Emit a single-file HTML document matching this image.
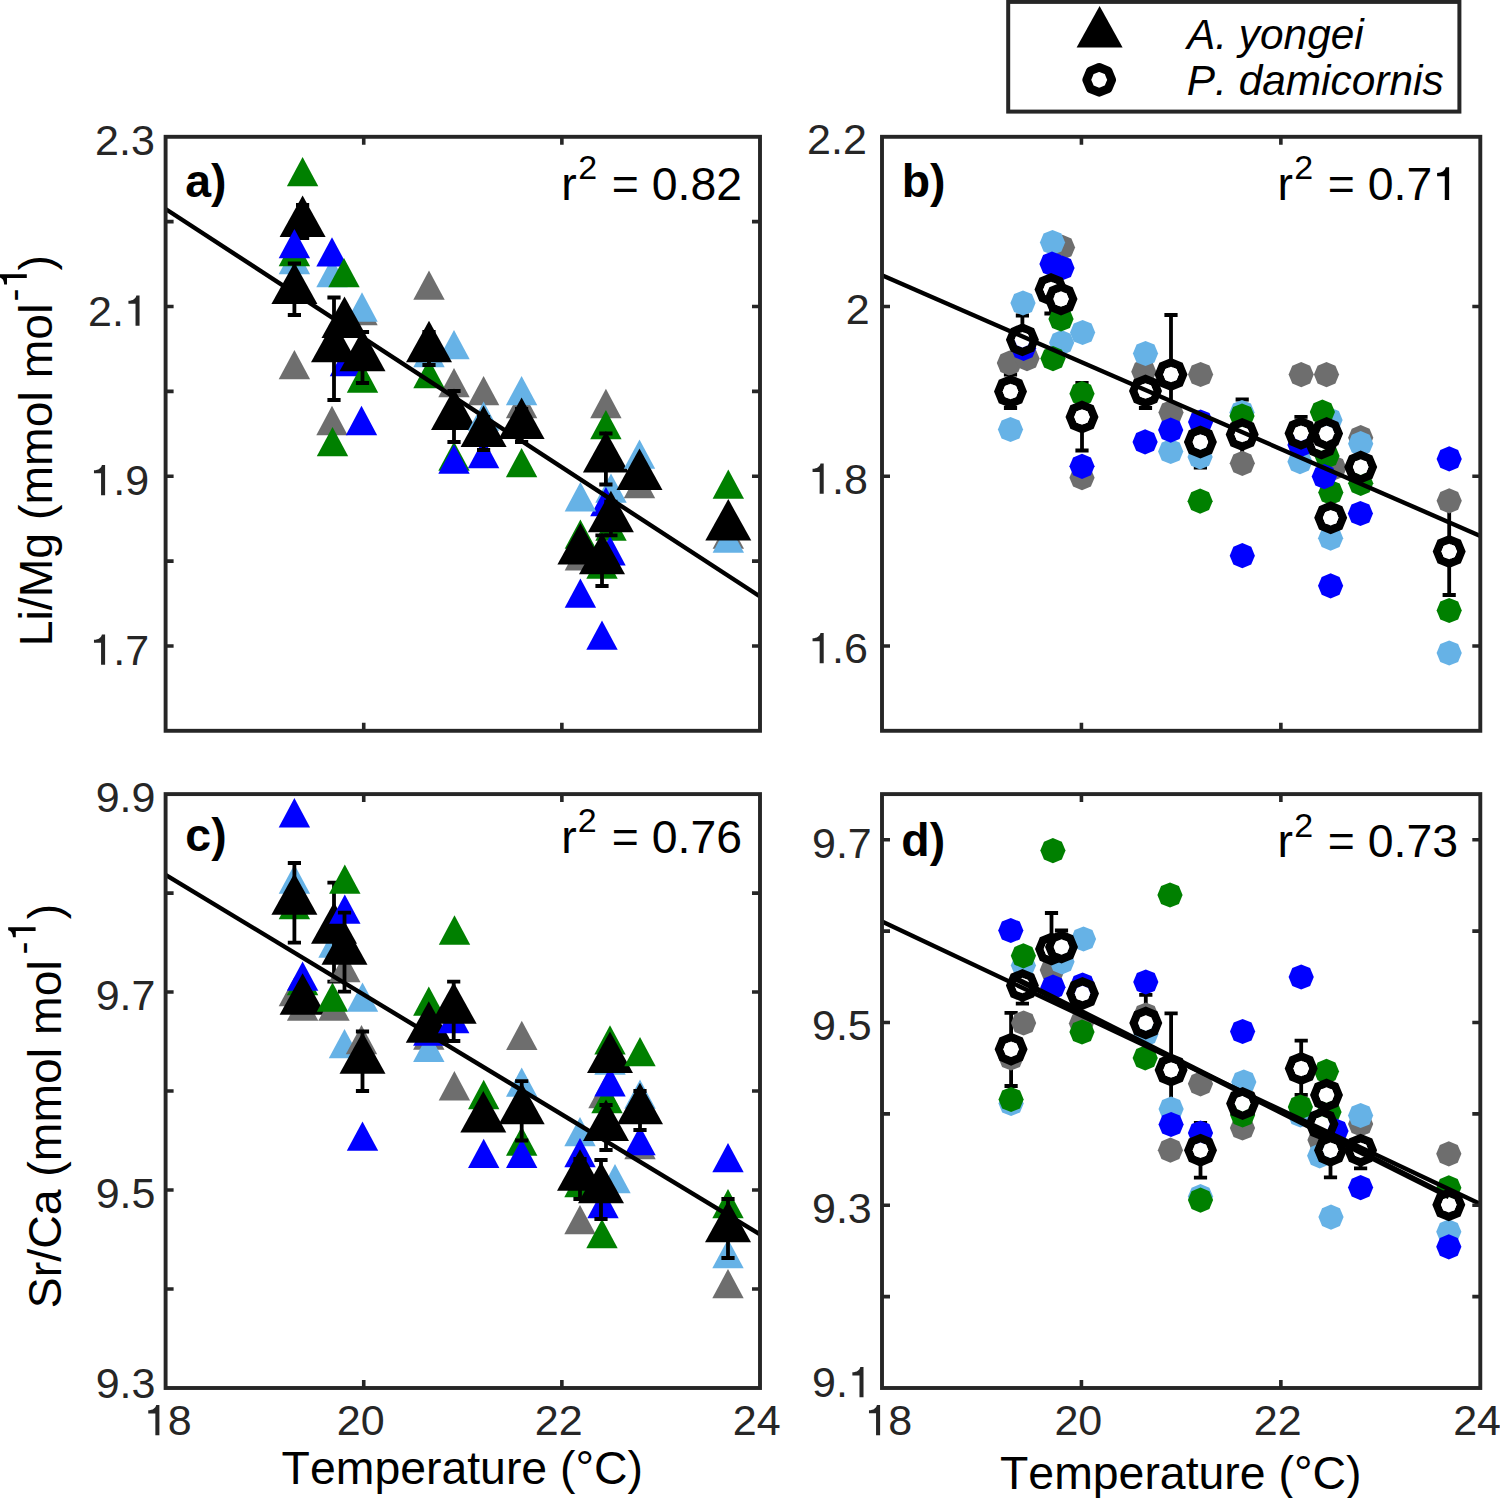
<!DOCTYPE html>
<html><head><meta charset="utf-8"><title>Li/Mg and Sr/Ca vs temperature</title>
<style>html,body{margin:0;padding:0;background:#fff;width:1500px;height:1498px;overflow:hidden}svg{display:block}text{font-family:"Liberation Sans",sans-serif;font-kerning:none}</style>
</head><body>
<svg xmlns="http://www.w3.org/2000/svg" width="1500" height="1498" viewBox="0 0 1500 1498">
<rect width="1500" height="1498" fill="#fff"/>
<clipPath id="clipa"><rect x="165.60" y="136.80" width="594.40" height="594.00"/></clipPath>
<g clip-path="url(#clipa)">
<polygon points="302.60,156.90 318.30,186.30 286.90,186.30" fill="#008000"/>
<path d="M302.60 205.00V238.00M296.00 205.00H309.20M296.00 238.00H309.20" stroke="#000" stroke-width="3.8" fill="none"/>
<polygon points="302.60,195.60 325.60,237.10 279.60,237.10" fill="#000"/>
<polygon points="294.40,349.90 310.10,379.30 278.70,379.30" fill="#6E6E6E"/>
<polygon points="294.40,244.90 310.10,274.30 278.70,274.30" fill="#66B2E6"/>
<polygon points="294.40,236.90 310.10,266.30 278.70,266.30" fill="#008000"/>
<polygon points="294.40,228.90 310.10,258.30 278.70,258.30" fill="#0000FF"/>
<path d="M294.40 263.50V315.00M287.80 263.50H301.00M287.80 315.00H301.00" stroke="#000" stroke-width="3.8" fill="none"/>
<polygon points="294.40,262.60 317.40,304.10 271.40,304.10" fill="#000"/>
<polygon points="332.00,405.80 347.70,435.20 316.30,435.20" fill="#6E6E6E"/>
<polygon points="332.00,257.90 347.70,287.30 316.30,287.30" fill="#66B2E6"/>
<polygon points="332.50,426.90 348.20,456.30 316.80,456.30" fill="#008000"/>
<polygon points="332.00,237.20 347.70,266.60 316.30,266.60" fill="#0000FF"/>
<polygon points="345.50,346.80 361.20,376.20 329.80,376.20" fill="#0000FF"/>
<path d="M334.00 297.50V400.00M327.40 297.50H340.60M327.40 400.00H340.60" stroke="#000" stroke-width="3.8" fill="none"/>
<polygon points="334.00,320.80 357.00,362.30 311.00,362.30" fill="#000"/>
<polygon points="362.00,295.90 377.70,325.30 346.30,325.30" fill="#6E6E6E"/>
<polygon points="362.00,292.30 377.70,321.70 346.30,321.70" fill="#66B2E6"/>
<polygon points="362.50,363.30 378.20,392.70 346.80,392.70" fill="#008000"/>
<polygon points="361.50,405.80 377.20,435.20 345.80,435.20" fill="#0000FF"/>
<path d="M362.50 332.00V383.00M355.90 332.00H369.10M355.90 383.00H369.10" stroke="#000" stroke-width="3.8" fill="none"/>
<polygon points="362.50,329.80 385.50,371.30 339.50,371.30" fill="#000"/>
<polygon points="344.00,257.90 359.70,287.30 328.30,287.30" fill="#008000"/>
<path d="M344.50 314.00V334.00M337.90 314.00H351.10M337.90 334.00H351.10" stroke="#000" stroke-width="3.8" fill="none"/>
<polygon points="344.50,296.60 367.50,338.10 321.50,338.10" fill="#000"/>
<polygon points="454.00,367.90 469.70,397.30 438.30,397.30" fill="#6E6E6E"/>
<polygon points="454.00,329.90 469.70,359.30 438.30,359.30" fill="#66B2E6"/>
<polygon points="454.00,441.40 469.70,470.80 438.30,470.80" fill="#008000"/>
<polygon points="454.00,444.40 469.70,473.80 438.30,473.80" fill="#0000FF"/>
<path d="M454.00 391.00V442.00M447.40 391.00H460.60M447.40 442.00H460.60" stroke="#000" stroke-width="3.8" fill="none"/>
<polygon points="454.00,388.60 477.00,430.10 431.00,430.10" fill="#000"/>
<polygon points="429.00,270.40 444.70,299.80 413.30,299.80" fill="#6E6E6E"/>
<polygon points="429.00,337.90 444.70,367.30 413.30,367.30" fill="#66B2E6"/>
<polygon points="429.00,358.90 444.70,388.30 413.30,388.30" fill="#008000"/>
<path d="M429.00 332.00V365.00M422.40 332.00H435.60M422.40 365.00H435.60" stroke="#000" stroke-width="3.8" fill="none"/>
<polygon points="429.00,320.80 452.00,362.30 406.00,362.30" fill="#000"/>
<polygon points="483.60,375.90 499.30,405.30 467.90,405.30" fill="#6E6E6E"/>
<polygon points="483.60,401.40 499.30,430.80 467.90,430.80" fill="#66B2E6"/>
<polygon points="483.60,438.90 499.30,468.30 467.90,468.30" fill="#0000FF"/>
<path d="M483.60 417.00V450.00M477.00 417.00H490.20M477.00 450.00H490.20" stroke="#000" stroke-width="3.8" fill="none"/>
<polygon points="483.60,405.60 506.60,447.10 460.60,447.10" fill="#000"/>
<polygon points="521.60,388.90 537.30,418.30 505.90,418.30" fill="#6E6E6E"/>
<polygon points="521.60,375.90 537.30,405.30 505.90,405.30" fill="#66B2E6"/>
<polygon points="521.60,447.90 537.30,477.30 505.90,477.30" fill="#008000"/>
<path d="M521.60 409.00V442.00M515.00 409.00H528.20M515.00 442.00H528.20" stroke="#000" stroke-width="3.8" fill="none"/>
<polygon points="521.60,397.60 544.60,439.10 498.60,439.10" fill="#000"/>
<polygon points="605.90,388.80 621.60,418.20 590.20,418.20" fill="#6E6E6E"/>
<polygon points="611.00,473.40 626.70,502.80 595.30,502.80" fill="#66B2E6"/>
<polygon points="605.90,409.90 621.60,439.30 590.20,439.30" fill="#008000"/>
<polygon points="605.90,486.90 621.60,516.30 590.20,516.30" fill="#0000FF"/>
<path d="M605.90 433.50V484.50M599.30 433.50H612.50M599.30 484.50H612.50" stroke="#000" stroke-width="3.8" fill="none"/>
<polygon points="605.90,431.10 628.90,472.60 582.90,472.60" fill="#000"/>
<polygon points="611.00,511.40 626.70,540.80 595.30,540.80" fill="#008000"/>
<polygon points="610.00,536.00 625.70,565.40 594.30,565.40" fill="#0000FF"/>
<path d="M610.90 501.70V535.30M604.30 501.70H617.50M604.30 535.30H617.50" stroke="#000" stroke-width="3.8" fill="none"/>
<polygon points="610.90,490.80 633.90,532.30 587.90,532.30" fill="#000"/>
<polygon points="580.40,541.10 596.10,570.50 564.70,570.50" fill="#6E6E6E"/>
<polygon points="580.40,482.00 596.10,511.40 564.70,511.40" fill="#66B2E6"/>
<polygon points="580.40,519.40 596.10,548.80 564.70,548.80" fill="#008000"/>
<polygon points="580.40,578.40 596.10,607.80 564.70,607.80" fill="#0000FF"/>
<path d="M580.40 540.00V561.00M573.80 540.00H587.00M573.80 561.00H587.00" stroke="#000" stroke-width="3.8" fill="none"/>
<polygon points="580.40,523.10 603.40,564.60 557.40,564.60" fill="#000"/>
<polygon points="602.00,549.40 617.70,578.80 586.30,578.80" fill="#008000"/>
<polygon points="602.00,620.40 617.70,649.80 586.30,649.80" fill="#0000FF"/>
<path d="M602.00 535.30V586.00M595.40 535.30H608.60M595.40 586.00H608.60" stroke="#000" stroke-width="3.8" fill="none"/>
<polygon points="602.00,532.80 625.00,574.30 579.00,574.30" fill="#000"/>
<polygon points="639.50,468.90 655.20,498.30 623.80,498.30" fill="#6E6E6E"/>
<polygon points="639.50,439.40 655.20,468.80 623.80,468.80" fill="#66B2E6"/>
<polygon points="639.50,460.40 655.20,489.80 623.80,489.80" fill="#0000FF"/>
<path d="M639.50 466.00V487.00M632.90 466.00H646.10M632.90 487.00H646.10" stroke="#000" stroke-width="3.8" fill="none"/>
<polygon points="639.50,448.60 662.50,490.10 616.50,490.10" fill="#000"/>
<polygon points="728.30,519.40 744.00,548.80 712.60,548.80" fill="#6E6E6E"/>
<polygon points="728.30,523.40 744.00,552.80 712.60,552.80" fill="#66B2E6"/>
<polygon points="728.30,469.40 744.00,498.80 712.60,498.80" fill="#008000"/>
<path d="M728.30 517.00V537.00M721.70 517.00H734.90M721.70 537.00H734.90" stroke="#000" stroke-width="3.8" fill="none"/>
<polygon points="728.30,499.10 751.30,540.60 705.30,540.60" fill="#000"/>
</g>
<clipPath id="clipb"><rect x="882.00" y="136.80" width="598.30" height="594.00"/></clipPath>
<g clip-path="url(#clipb)">
<path d="M1010.50 374.50V408.00M1003.90 374.50H1017.10M1003.90 408.00H1017.10" stroke="#000" stroke-width="3.8" fill="none"/>
<path d="M1022.40 315.50V364.00M1015.80 315.50H1029.00M1015.80 364.00H1029.00" stroke="#000" stroke-width="3.8" fill="none"/>
<path d="M1051.00 265.50V313.50M1044.40 265.50H1057.60M1044.40 313.50H1057.60" stroke="#000" stroke-width="3.8" fill="none"/>
<path d="M1061.00 290.00V308.00M1054.40 290.00H1067.60M1054.40 308.00H1067.60" stroke="#000" stroke-width="3.8" fill="none"/>
<path d="M1082.00 383.00V450.50M1075.40 383.00H1088.60M1075.40 450.50H1088.60" stroke="#000" stroke-width="3.8" fill="none"/>
<path d="M1145.50 374.00V408.00M1138.90 374.00H1152.10M1138.90 408.00H1152.10" stroke="#000" stroke-width="3.8" fill="none"/>
<path d="M1171.00 315.00V434.00M1164.40 315.00H1177.60M1164.40 434.00H1177.60" stroke="#000" stroke-width="3.8" fill="none"/>
<path d="M1200.40 416.00V467.50M1193.80 416.00H1207.00M1193.80 467.50H1207.00" stroke="#000" stroke-width="3.8" fill="none"/>
<path d="M1242.20 399.50V468.50M1235.60 399.50H1248.80M1235.60 468.50H1248.80" stroke="#000" stroke-width="3.8" fill="none"/>
<path d="M1301.00 416.80V449.80M1294.40 416.80H1307.60M1294.40 449.80H1307.60" stroke="#000" stroke-width="3.8" fill="none"/>
<path d="M1321.40 435.00V451.00M1314.80 435.00H1328.00M1314.80 451.00H1328.00" stroke="#000" stroke-width="3.8" fill="none"/>
<path d="M1326.60 425.00V442.00M1320.00 425.00H1333.20M1320.00 442.00H1333.20" stroke="#000" stroke-width="3.8" fill="none"/>
<path d="M1330.70 509.00V526.00M1324.10 509.00H1337.30M1324.10 526.00H1337.30" stroke="#000" stroke-width="3.8" fill="none"/>
<path d="M1360.70 459.00V475.00M1354.10 459.00H1367.30M1354.10 475.00H1367.30" stroke="#000" stroke-width="3.8" fill="none"/>
<path d="M1449.20 508.00V595.00M1442.60 508.00H1455.80M1442.60 595.00H1455.80" stroke="#000" stroke-width="3.8" fill="none"/>
<polygon points="1009.40,350.50 1000.49,354.19 996.80,363.10 1000.49,372.01 1009.40,375.70 1018.31,372.01 1022.00,363.10 1018.31,354.19" fill="#6E6E6E"/>
<polygon points="1027.00,346.00 1018.09,349.69 1014.40,358.60 1018.09,367.51 1027.00,371.20 1035.91,367.51 1039.60,358.60 1035.91,349.69" fill="#6E6E6E"/>
<polygon points="1062.50,234.80 1053.59,238.49 1049.90,247.40 1053.59,256.31 1062.50,260.00 1071.41,256.31 1075.10,247.40 1071.41,238.49" fill="#6E6E6E"/>
<polygon points="1082.00,465.10 1073.09,468.79 1069.40,477.70 1073.09,486.61 1082.00,490.30 1090.91,486.61 1094.60,477.70 1090.91,468.79" fill="#6E6E6E"/>
<polygon points="1143.80,359.10 1134.89,362.79 1131.20,371.70 1134.89,380.61 1143.80,384.30 1152.71,380.61 1156.40,371.70 1152.71,362.79" fill="#6E6E6E"/>
<polygon points="1171.00,399.90 1162.09,403.59 1158.40,412.50 1162.09,421.41 1171.00,425.10 1179.91,421.41 1183.60,412.50 1179.91,403.59" fill="#6E6E6E"/>
<polygon points="1200.60,361.90 1191.69,365.59 1188.00,374.50 1191.69,383.41 1200.60,387.10 1209.51,383.41 1213.20,374.50 1209.51,365.59" fill="#6E6E6E"/>
<polygon points="1242.30,450.70 1233.39,454.39 1229.70,463.30 1233.39,472.21 1242.30,475.90 1251.21,472.21 1254.90,463.30 1251.21,454.39" fill="#6E6E6E"/>
<polygon points="1301.20,362.00 1292.29,365.69 1288.60,374.60 1292.29,383.51 1301.20,387.20 1310.11,383.51 1313.80,374.60 1310.11,365.69" fill="#6E6E6E"/>
<polygon points="1326.50,362.00 1317.59,365.69 1313.90,374.60 1317.59,383.51 1326.50,387.20 1335.41,383.51 1339.10,374.60 1335.41,365.69" fill="#6E6E6E"/>
<polygon points="1334.00,455.40 1325.09,459.09 1321.40,468.00 1325.09,476.91 1334.00,480.60 1342.91,476.91 1346.60,468.00 1342.91,459.09" fill="#6E6E6E"/>
<polygon points="1360.70,425.10 1351.79,428.79 1348.10,437.70 1351.79,446.61 1360.70,450.30 1369.61,446.61 1373.30,437.70 1369.61,428.79" fill="#6E6E6E"/>
<polygon points="1449.20,488.20 1440.29,491.89 1436.60,500.80 1440.29,509.71 1449.20,513.40 1458.11,509.71 1461.80,500.80 1458.11,491.89" fill="#6E6E6E"/>
<polygon points="1023.00,290.40 1014.09,294.09 1010.40,303.00 1014.09,311.91 1023.00,315.60 1031.91,311.91 1035.60,303.00 1031.91,294.09" fill="#66B2E6"/>
<polygon points="1010.50,416.90 1001.59,420.59 997.90,429.50 1001.59,438.41 1010.50,442.10 1019.41,438.41 1023.10,429.50 1019.41,420.59" fill="#66B2E6"/>
<polygon points="1052.50,229.90 1043.59,233.59 1039.90,242.50 1043.59,251.41 1052.50,255.10 1061.41,251.41 1065.10,242.50 1061.41,233.59" fill="#66B2E6"/>
<polygon points="1061.60,330.10 1052.69,333.79 1049.00,342.70 1052.69,351.61 1061.60,355.30 1070.51,351.61 1074.20,342.70 1070.51,333.79" fill="#66B2E6"/>
<polygon points="1082.60,319.90 1073.69,323.59 1070.00,332.50 1073.69,341.41 1082.60,345.10 1091.51,341.41 1095.20,332.50 1091.51,323.59" fill="#66B2E6"/>
<polygon points="1145.50,340.90 1136.59,344.59 1132.90,353.50 1136.59,362.41 1145.50,366.10 1154.41,362.41 1158.10,353.50 1154.41,344.59" fill="#66B2E6"/>
<polygon points="1170.70,438.90 1161.79,442.59 1158.10,451.50 1161.79,460.41 1170.70,464.10 1179.61,460.41 1183.30,451.50 1179.61,442.59" fill="#66B2E6"/>
<polygon points="1200.10,444.30 1191.19,447.99 1187.50,456.90 1191.19,465.81 1200.10,469.50 1209.01,465.81 1212.70,456.90 1209.01,447.99" fill="#66B2E6"/>
<polygon points="1242.00,399.90 1233.09,403.59 1229.40,412.50 1233.09,421.41 1242.00,425.10 1250.91,421.41 1254.60,412.50 1250.91,403.59" fill="#66B2E6"/>
<polygon points="1300.00,449.10 1291.09,452.79 1287.40,461.70 1291.09,470.61 1300.00,474.30 1308.91,470.61 1312.60,461.70 1308.91,452.79" fill="#66B2E6"/>
<polygon points="1330.00,407.40 1321.09,411.09 1317.40,420.00 1321.09,428.91 1330.00,432.60 1338.91,428.91 1342.60,420.00 1338.91,411.09" fill="#66B2E6"/>
<polygon points="1330.60,525.60 1321.69,529.29 1318.00,538.20 1321.69,547.11 1330.60,550.80 1339.51,547.11 1343.20,538.20 1339.51,529.29" fill="#66B2E6"/>
<polygon points="1360.70,431.10 1351.79,434.79 1348.10,443.70 1351.79,452.61 1360.70,456.30 1369.61,452.61 1373.30,443.70 1369.61,434.79" fill="#66B2E6"/>
<polygon points="1449.20,640.40 1440.29,644.09 1436.60,653.00 1440.29,661.91 1449.20,665.60 1458.11,661.91 1461.80,653.00 1458.11,644.09" fill="#66B2E6"/>
<polygon points="1061.00,306.40 1052.09,310.09 1048.40,319.00 1052.09,327.91 1061.00,331.60 1069.91,327.91 1073.60,319.00 1069.91,310.09" fill="#008000"/>
<polygon points="1053.00,346.00 1044.09,349.69 1040.40,358.60 1044.09,367.51 1053.00,371.20 1061.91,367.51 1065.60,358.60 1061.91,349.69" fill="#008000"/>
<polygon points="1082.00,381.10 1073.09,384.79 1069.40,393.70 1073.09,402.61 1082.00,406.30 1090.91,402.61 1094.60,393.70 1090.91,384.79" fill="#008000"/>
<polygon points="1200.10,488.60 1191.19,492.29 1187.50,501.20 1191.19,510.11 1200.10,513.80 1209.01,510.11 1212.70,501.20 1209.01,492.29" fill="#008000"/>
<polygon points="1242.00,403.40 1233.09,407.09 1229.40,416.00 1233.09,424.91 1242.00,428.60 1250.91,424.91 1254.60,416.00 1250.91,407.09" fill="#008000"/>
<polygon points="1322.40,399.50 1313.49,403.19 1309.80,412.10 1313.49,421.01 1322.40,424.70 1331.31,421.01 1335.00,412.10 1331.31,403.19" fill="#008000"/>
<polygon points="1327.00,443.40 1318.09,447.09 1314.40,456.00 1318.09,464.91 1327.00,468.60 1335.91,464.91 1339.60,456.00 1335.91,447.09" fill="#008000"/>
<polygon points="1330.80,479.90 1321.89,483.59 1318.20,492.50 1321.89,501.41 1330.80,505.10 1339.71,501.41 1343.40,492.50 1339.71,483.59" fill="#008000"/>
<polygon points="1360.70,470.70 1351.79,474.39 1348.10,483.30 1351.79,492.21 1360.70,495.90 1369.61,492.21 1373.30,483.30 1369.61,474.39" fill="#008000"/>
<polygon points="1449.20,597.90 1440.29,601.59 1436.60,610.50 1440.29,619.41 1449.20,623.10 1458.11,619.41 1461.80,610.50 1458.11,601.59" fill="#008000"/>
<polygon points="1023.60,335.80 1014.69,339.49 1011.00,348.40 1014.69,357.31 1023.60,361.00 1032.51,357.31 1036.20,348.40 1032.51,339.49" fill="#0000FF"/>
<polygon points="1052.00,251.40 1043.09,255.09 1039.40,264.00 1043.09,272.91 1052.00,276.60 1060.91,272.91 1064.60,264.00 1060.91,255.09" fill="#0000FF"/>
<polygon points="1062.00,255.40 1053.09,259.09 1049.40,268.00 1053.09,276.91 1062.00,280.60 1070.91,276.91 1074.60,268.00 1070.91,259.09" fill="#0000FF"/>
<polygon points="1082.00,453.70 1073.09,457.39 1069.40,466.30 1073.09,475.21 1082.00,478.90 1090.91,475.21 1094.60,466.30 1090.91,457.39" fill="#0000FF"/>
<polygon points="1145.10,429.30 1136.19,432.99 1132.50,441.90 1136.19,450.81 1145.10,454.50 1154.01,450.81 1157.70,441.90 1154.01,432.99" fill="#0000FF"/>
<polygon points="1170.70,417.50 1161.79,421.19 1158.10,430.10 1161.79,439.01 1170.70,442.70 1179.61,439.01 1183.30,430.10 1179.61,421.19" fill="#0000FF"/>
<polygon points="1200.60,409.40 1191.69,413.09 1188.00,422.00 1191.69,430.91 1200.60,434.60 1209.51,430.91 1213.20,422.00 1209.51,413.09" fill="#0000FF"/>
<polygon points="1242.30,543.10 1233.39,546.79 1229.70,555.70 1233.39,564.61 1242.30,568.30 1251.21,564.61 1254.90,555.70 1251.21,546.79" fill="#0000FF"/>
<polygon points="1300.00,432.40 1291.09,436.09 1287.40,445.00 1291.09,453.91 1300.00,457.60 1308.91,453.91 1312.60,445.00 1308.91,436.09" fill="#0000FF"/>
<polygon points="1324.30,464.00 1315.39,467.69 1311.70,476.60 1315.39,485.51 1324.30,489.20 1333.21,485.51 1336.90,476.60 1333.21,467.69" fill="#0000FF"/>
<polygon points="1330.60,573.20 1321.69,576.89 1318.00,585.80 1321.69,594.71 1330.60,598.40 1339.51,594.71 1343.20,585.80 1339.51,576.89" fill="#0000FF"/>
<polygon points="1360.40,500.90 1351.49,504.59 1347.80,513.50 1351.49,522.41 1360.40,526.10 1369.31,522.41 1373.00,513.50 1369.31,504.59" fill="#0000FF"/>
<polygon points="1449.20,446.30 1440.29,449.99 1436.60,458.90 1440.29,467.81 1449.20,471.50 1458.11,467.81 1461.80,458.90 1458.11,449.99" fill="#0000FF"/>
<path d="M1010.50,375.00L998.83,379.83L994.00,391.50L998.83,403.17L1010.50,408.00L1022.17,403.17L1027.00,391.50L1022.17,379.83ZM1010.50,383.70L1004.98,385.98L1002.70,391.50L1004.98,397.02L1010.50,399.30L1016.02,397.02L1018.30,391.50L1016.02,385.98Z" fill="#000" fill-rule="evenodd"/><polygon points="1010.50,383.70 1004.98,385.98 1002.70,391.50 1004.98,397.02 1010.50,399.30 1016.02,397.02 1018.30,391.50 1016.02,385.98" fill="#fff"/>
<path d="M1022.40,323.30L1010.73,328.13L1005.90,339.80L1010.73,351.47L1022.40,356.30L1034.07,351.47L1038.90,339.80L1034.07,328.13ZM1022.40,332.00L1016.88,334.28L1014.60,339.80L1016.88,345.32L1022.40,347.60L1027.92,345.32L1030.20,339.80L1027.92,334.28Z" fill="#000" fill-rule="evenodd"/><polygon points="1022.40,332.00 1016.88,334.28 1014.60,339.80 1016.88,345.32 1022.40,347.60 1027.92,345.32 1030.20,339.80 1027.92,334.28" fill="#fff"/>
<path d="M1051.00,273.00L1039.33,277.83L1034.50,289.50L1039.33,301.17L1051.00,306.00L1062.67,301.17L1067.50,289.50L1062.67,277.83ZM1051.00,281.70L1045.48,283.98L1043.20,289.50L1045.48,295.02L1051.00,297.30L1056.52,295.02L1058.80,289.50L1056.52,283.98Z" fill="#000" fill-rule="evenodd"/><polygon points="1051.00,281.70 1045.48,283.98 1043.20,289.50 1045.48,295.02 1051.00,297.30 1056.52,295.02 1058.80,289.50 1056.52,283.98" fill="#fff"/>
<path d="M1061.00,282.50L1049.33,287.33L1044.50,299.00L1049.33,310.67L1061.00,315.50L1072.67,310.67L1077.50,299.00L1072.67,287.33ZM1061.00,291.20L1055.48,293.48L1053.20,299.00L1055.48,304.52L1061.00,306.80L1066.52,304.52L1068.80,299.00L1066.52,293.48Z" fill="#000" fill-rule="evenodd"/><polygon points="1061.00,291.20 1055.48,293.48 1053.20,299.00 1055.48,304.52 1061.00,306.80 1066.52,304.52 1068.80,299.00 1066.52,293.48" fill="#fff"/>
<path d="M1082.00,400.50L1070.33,405.33L1065.50,417.00L1070.33,428.67L1082.00,433.50L1093.67,428.67L1098.50,417.00L1093.67,405.33ZM1082.00,409.20L1076.48,411.48L1074.20,417.00L1076.48,422.52L1082.00,424.80L1087.52,422.52L1089.80,417.00L1087.52,411.48Z" fill="#000" fill-rule="evenodd"/><polygon points="1082.00,409.20 1076.48,411.48 1074.20,417.00 1076.48,422.52 1082.00,424.80 1087.52,422.52 1089.80,417.00 1087.52,411.48" fill="#fff"/>
<path d="M1145.50,374.50L1133.83,379.33L1129.00,391.00L1133.83,402.67L1145.50,407.50L1157.17,402.67L1162.00,391.00L1157.17,379.33ZM1145.50,383.20L1139.98,385.48L1137.70,391.00L1139.98,396.52L1145.50,398.80L1151.02,396.52L1153.30,391.00L1151.02,385.48Z" fill="#000" fill-rule="evenodd"/><polygon points="1145.50,383.20 1139.98,385.48 1137.70,391.00 1139.98,396.52 1145.50,398.80 1151.02,396.52 1153.30,391.00 1151.02,385.48" fill="#fff"/>
<path d="M1171.00,358.00L1159.33,362.83L1154.50,374.50L1159.33,386.17L1171.00,391.00L1182.67,386.17L1187.50,374.50L1182.67,362.83ZM1171.00,366.70L1165.48,368.98L1163.20,374.50L1165.48,380.02L1171.00,382.30L1176.52,380.02L1178.80,374.50L1176.52,368.98Z" fill="#000" fill-rule="evenodd"/><polygon points="1171.00,366.70 1165.48,368.98 1163.20,374.50 1165.48,380.02 1171.00,382.30 1176.52,380.02 1178.80,374.50 1176.52,368.98" fill="#fff"/>
<path d="M1200.40,425.50L1188.73,430.33L1183.90,442.00L1188.73,453.67L1200.40,458.50L1212.07,453.67L1216.90,442.00L1212.07,430.33ZM1200.40,434.20L1194.88,436.48L1192.60,442.00L1194.88,447.52L1200.40,449.80L1205.92,447.52L1208.20,442.00L1205.92,436.48Z" fill="#000" fill-rule="evenodd"/><polygon points="1200.40,434.20 1194.88,436.48 1192.60,442.00 1194.88,447.52 1200.40,449.80 1205.92,447.52 1208.20,442.00 1205.92,436.48" fill="#fff"/>
<path d="M1242.20,418.00L1230.53,422.83L1225.70,434.50L1230.53,446.17L1242.20,451.00L1253.87,446.17L1258.70,434.50L1253.87,422.83ZM1242.20,426.70L1236.68,428.98L1234.40,434.50L1236.68,440.02L1242.20,442.30L1247.72,440.02L1250.00,434.50L1247.72,428.98Z" fill="#000" fill-rule="evenodd"/><polygon points="1242.20,426.70 1236.68,428.98 1234.40,434.50 1236.68,440.02 1242.20,442.30 1247.72,440.02 1250.00,434.50 1247.72,428.98" fill="#fff"/>
<path d="M1301.00,416.80L1289.33,421.63L1284.50,433.30L1289.33,444.97L1301.00,449.80L1312.67,444.97L1317.50,433.30L1312.67,421.63ZM1301.00,425.50L1295.48,427.78L1293.20,433.30L1295.48,438.82L1301.00,441.10L1306.52,438.82L1308.80,433.30L1306.52,427.78Z" fill="#000" fill-rule="evenodd"/><polygon points="1301.00,425.50 1295.48,427.78 1293.20,433.30 1295.48,438.82 1301.00,441.10 1306.52,438.82 1308.80,433.30 1306.52,427.78" fill="#fff"/>
<path d="M1321.40,426.50L1309.73,431.33L1304.90,443.00L1309.73,454.67L1321.40,459.50L1333.07,454.67L1337.90,443.00L1333.07,431.33ZM1321.40,435.20L1315.88,437.48L1313.60,443.00L1315.88,448.52L1321.40,450.80L1326.92,448.52L1329.20,443.00L1326.92,437.48Z" fill="#000" fill-rule="evenodd"/><polygon points="1321.40,435.20 1315.88,437.48 1313.60,443.00 1315.88,448.52 1321.40,450.80 1326.92,448.52 1329.20,443.00 1326.92,437.48" fill="#fff"/>
<path d="M1326.60,417.10L1314.93,421.93L1310.10,433.60L1314.93,445.27L1326.60,450.10L1338.27,445.27L1343.10,433.60L1338.27,421.93ZM1326.60,425.80L1321.08,428.08L1318.80,433.60L1321.08,439.12L1326.60,441.40L1332.12,439.12L1334.40,433.60L1332.12,428.08Z" fill="#000" fill-rule="evenodd"/><polygon points="1326.60,425.80 1321.08,428.08 1318.80,433.60 1321.08,439.12 1326.60,441.40 1332.12,439.12 1334.40,433.60 1332.12,428.08" fill="#fff"/>
<path d="M1330.70,501.30L1319.03,506.13L1314.20,517.80L1319.03,529.47L1330.70,534.30L1342.37,529.47L1347.20,517.80L1342.37,506.13ZM1330.70,510.00L1325.18,512.28L1322.90,517.80L1325.18,523.32L1330.70,525.60L1336.22,523.32L1338.50,517.80L1336.22,512.28Z" fill="#000" fill-rule="evenodd"/><polygon points="1330.70,510.00 1325.18,512.28 1322.90,517.80 1325.18,523.32 1330.70,525.60 1336.22,523.32 1338.50,517.80 1336.22,512.28" fill="#fff"/>
<path d="M1360.70,450.60L1349.03,455.43L1344.20,467.10L1349.03,478.77L1360.70,483.60L1372.37,478.77L1377.20,467.10L1372.37,455.43ZM1360.70,459.30L1355.18,461.58L1352.90,467.10L1355.18,472.62L1360.70,474.90L1366.22,472.62L1368.50,467.10L1366.22,461.58Z" fill="#000" fill-rule="evenodd"/><polygon points="1360.70,459.30 1355.18,461.58 1352.90,467.10 1355.18,472.62 1360.70,474.90 1366.22,472.62 1368.50,467.10 1366.22,461.58" fill="#fff"/>
<path d="M1449.20,535.00L1437.53,539.83L1432.70,551.50L1437.53,563.17L1449.20,568.00L1460.87,563.17L1465.70,551.50L1460.87,539.83ZM1449.20,543.70L1443.68,545.98L1441.40,551.50L1443.68,557.02L1449.20,559.30L1454.72,557.02L1457.00,551.50L1454.72,545.98Z" fill="#000" fill-rule="evenodd"/><polygon points="1449.20,543.70 1443.68,545.98 1441.40,551.50 1443.68,557.02 1449.20,559.30 1454.72,557.02 1457.00,551.50 1454.72,545.98" fill="#fff"/>
</g>
<clipPath id="clipc"><rect x="165.60" y="794.10" width="594.40" height="593.90"/></clipPath>
<g clip-path="url(#clipc)">
<polygon points="294.40,976.90 310.10,1006.30 278.70,1006.30" fill="#6E6E6E"/>
<polygon points="294.40,864.40 310.10,893.80 278.70,893.80" fill="#66B2E6"/>
<polygon points="294.40,889.90 310.10,919.30 278.70,919.30" fill="#008000"/>
<polygon points="294.40,798.00 310.10,827.40 278.70,827.40" fill="#0000FF"/>
<path d="M294.40 863.00V942.60M287.80 863.00H301.00M287.80 942.60H301.00" stroke="#000" stroke-width="3.8" fill="none"/>
<polygon points="294.40,873.30 317.40,914.80 271.40,914.80" fill="#000"/>
<polygon points="302.60,991.40 318.30,1020.80 286.90,1020.80" fill="#6E6E6E"/>
<polygon points="302.60,965.90 318.30,995.30 286.90,995.30" fill="#008000"/>
<polygon points="302.60,961.40 318.30,990.80 286.90,990.80" fill="#0000FF"/>
<path d="M302.60 993.00V1009.00M296.00 993.00H309.20M296.00 1009.00H309.20" stroke="#000" stroke-width="3.8" fill="none"/>
<polygon points="302.60,973.30 325.60,1014.80 279.60,1014.80" fill="#000"/>
<polygon points="334.00,991.40 349.70,1020.80 318.30,1020.80" fill="#6E6E6E"/>
<polygon points="334.00,928.40 349.70,957.80 318.30,957.80" fill="#66B2E6"/>
<polygon points="332.50,982.40 348.20,1011.80 316.80,1011.80" fill="#008000"/>
<path d="M334.00 882.70V981.60M327.40 882.70H340.60M327.40 981.60H340.60" stroke="#000" stroke-width="3.8" fill="none"/>
<polygon points="334.00,902.30 357.00,943.80 311.00,943.80" fill="#000"/>
<polygon points="344.80,952.90 360.50,982.30 329.10,982.30" fill="#6E6E6E"/>
<polygon points="344.50,1028.90 360.20,1058.30 328.80,1058.30" fill="#66B2E6"/>
<polygon points="344.80,864.40 360.50,893.80 329.10,893.80" fill="#008000"/>
<polygon points="344.80,894.40 360.50,923.80 329.10,923.80" fill="#0000FF"/>
<path d="M344.50 912.60V991.70M337.90 912.60H351.10M337.90 991.70H351.10" stroke="#000" stroke-width="3.8" fill="none"/>
<polygon points="344.50,923.30 367.50,964.80 321.50,964.80" fill="#000"/>
<polygon points="361.50,1024.90 377.20,1054.30 345.80,1054.30" fill="#6E6E6E"/>
<polygon points="362.50,982.40 378.20,1011.80 346.80,1011.80" fill="#66B2E6"/>
<polygon points="362.50,1038.40 378.20,1067.80 346.80,1067.80" fill="#008000"/>
<polygon points="362.50,1121.40 378.20,1150.80 346.80,1150.80" fill="#0000FF"/>
<path d="M362.50 1031.50V1091.00M355.90 1031.50H369.10M355.90 1091.00H369.10" stroke="#000" stroke-width="3.8" fill="none"/>
<polygon points="362.50,1032.30 385.50,1073.80 339.50,1073.80" fill="#000"/>
<polygon points="428.80,1020.40 444.50,1049.80 413.10,1049.80" fill="#6E6E6E"/>
<polygon points="428.80,1032.70 444.50,1062.10 413.10,1062.10" fill="#66B2E6"/>
<polygon points="428.80,986.40 444.50,1015.80 413.10,1015.80" fill="#008000"/>
<polygon points="428.80,1016.40 444.50,1045.80 413.10,1045.80" fill="#0000FF"/>
<path d="M428.80 1021.00V1037.00M422.20 1021.00H435.40M422.20 1037.00H435.40" stroke="#000" stroke-width="3.8" fill="none"/>
<polygon points="428.80,1001.30 451.80,1042.80 405.80,1042.80" fill="#000"/>
<polygon points="454.40,1071.10 470.10,1100.50 438.70,1100.50" fill="#6E6E6E"/>
<polygon points="453.70,987.40 469.40,1016.80 438.00,1016.80" fill="#66B2E6"/>
<polygon points="454.50,915.30 470.20,944.70 438.80,944.70" fill="#008000"/>
<polygon points="453.70,1003.90 469.40,1033.30 438.00,1033.30" fill="#0000FF"/>
<path d="M453.70 981.70V1041.00M447.10 981.70H460.30M447.10 1041.00H460.30" stroke="#000" stroke-width="3.8" fill="none"/>
<polygon points="453.70,982.30 476.70,1023.80 430.70,1023.80" fill="#000"/>
<polygon points="483.70,1079.80 499.40,1109.20 468.00,1109.20" fill="#008000"/>
<polygon points="483.70,1138.70 499.40,1168.10 468.00,1168.10" fill="#0000FF"/>
<path d="M483.30 1110.00V1127.00M476.70 1110.00H489.90M476.70 1127.00H489.90" stroke="#000" stroke-width="3.8" fill="none"/>
<polygon points="483.30,1091.00 506.30,1132.50 460.30,1132.50" fill="#000"/>
<polygon points="521.80,1020.70 537.50,1050.10 506.10,1050.10" fill="#6E6E6E"/>
<polygon points="521.70,1067.40 537.40,1096.80 506.00,1096.80" fill="#66B2E6"/>
<polygon points="521.70,1126.40 537.40,1155.80 506.00,1155.80" fill="#008000"/>
<polygon points="521.70,1138.70 537.40,1168.10 506.00,1168.10" fill="#0000FF"/>
<path d="M521.70 1081.20V1140.50M515.10 1081.20H528.30M515.10 1140.50H528.30" stroke="#000" stroke-width="3.8" fill="none"/>
<polygon points="521.70,1082.80 544.70,1124.30 498.70,1124.30" fill="#000"/>
<polygon points="580.00,1204.90 595.70,1234.30 564.30,1234.30" fill="#6E6E6E"/>
<polygon points="580.00,1116.90 595.70,1146.30 564.30,1146.30" fill="#66B2E6"/>
<polygon points="580.00,1167.90 595.70,1197.30 564.30,1197.30" fill="#008000"/>
<polygon points="580.00,1137.90 595.70,1167.30 564.30,1167.30" fill="#0000FF"/>
<path d="M580.00 1159.00V1199.00M573.40 1159.00H586.60M573.40 1199.00H586.60" stroke="#000" stroke-width="3.8" fill="none"/>
<polygon points="580.00,1149.30 603.00,1190.80 557.00,1190.80" fill="#000"/>
<polygon points="615.00,1163.90 630.70,1193.30 599.30,1193.30" fill="#66B2E6"/>
<polygon points="602.00,1218.90 617.70,1248.30 586.30,1248.30" fill="#008000"/>
<polygon points="603.00,1188.90 618.70,1218.30 587.30,1218.30" fill="#0000FF"/>
<path d="M601.00 1160.00V1219.00M594.40 1160.00H607.60M594.40 1219.00H607.60" stroke="#000" stroke-width="3.8" fill="none"/>
<polygon points="601.00,1161.80 624.00,1203.30 578.00,1203.30" fill="#000"/>
<polygon points="604.00,1078.90 619.70,1108.30 588.30,1108.30" fill="#6E6E6E"/>
<polygon points="607.00,1083.90 622.70,1113.30 591.30,1113.30" fill="#008000"/>
<path d="M606.00 1105.00V1150.00M599.40 1105.00H612.60M599.40 1150.00H612.60" stroke="#000" stroke-width="3.8" fill="none"/>
<polygon points="606.00,1099.60 629.00,1141.10 583.00,1141.10" fill="#000"/>
<polygon points="610.00,1045.40 625.70,1074.80 594.30,1074.80" fill="#66B2E6"/>
<polygon points="610.00,1025.20 625.70,1054.60 594.30,1054.60" fill="#008000"/>
<polygon points="610.00,1067.00 625.70,1096.40 594.30,1096.40" fill="#0000FF"/>
<path d="M610.00 1051.00V1067.00M603.40 1051.00H616.60M603.40 1067.00H616.60" stroke="#000" stroke-width="3.8" fill="none"/>
<polygon points="610.00,1031.60 633.00,1073.10 587.00,1073.10" fill="#000"/>
<polygon points="640.00,1129.90 655.70,1159.30 624.30,1159.30" fill="#6E6E6E"/>
<polygon points="640.00,1079.40 655.70,1108.80 624.30,1108.80" fill="#66B2E6"/>
<polygon points="640.00,1036.90 655.70,1066.30 624.30,1066.30" fill="#008000"/>
<polygon points="640.00,1125.90 655.70,1155.30 624.30,1155.30" fill="#0000FF"/>
<path d="M640.00 1091.00V1130.00M633.40 1091.00H646.60M633.40 1130.00H646.60" stroke="#000" stroke-width="3.8" fill="none"/>
<polygon points="640.00,1082.80 663.00,1124.30 617.00,1124.30" fill="#000"/>
<polygon points="728.00,1268.90 743.70,1298.30 712.30,1298.30" fill="#6E6E6E"/>
<polygon points="728.00,1238.90 743.70,1268.30 712.30,1268.30" fill="#66B2E6"/>
<polygon points="728.00,1188.90 743.70,1218.30 712.30,1218.30" fill="#008000"/>
<polygon points="728.00,1142.90 743.70,1172.30 712.30,1172.30" fill="#0000FF"/>
<path d="M728.00 1199.00V1258.00M721.40 1199.00H734.60M721.40 1258.00H734.60" stroke="#000" stroke-width="3.8" fill="none"/>
<polygon points="728.00,1200.80 751.00,1242.30 705.00,1242.30" fill="#000"/>
</g>
<clipPath id="clipd"><rect x="882.00" y="794.10" width="598.30" height="593.90"/></clipPath>
<g clip-path="url(#clipd)">
<path d="M1011.10 1012.80V1086.00M1004.50 1012.80H1017.70M1004.50 1086.00H1017.70" stroke="#000" stroke-width="3.8" fill="none"/>
<path d="M1022.40 967.30V1003.70M1015.80 967.30H1029.00M1015.80 1003.70H1029.00" stroke="#000" stroke-width="3.8" fill="none"/>
<path d="M1051.50 913.00V985.00M1044.90 913.00H1058.10M1044.90 985.00H1058.10" stroke="#000" stroke-width="3.8" fill="none"/>
<path d="M1061.50 930.50V963.50M1054.90 930.50H1068.10M1054.90 963.50H1068.10" stroke="#000" stroke-width="3.8" fill="none"/>
<path d="M1082.50 985.00V1002.00M1075.90 985.00H1089.10M1075.90 1002.00H1089.10" stroke="#000" stroke-width="3.8" fill="none"/>
<path d="M1145.80 994.80V1051.00M1139.20 994.80H1152.40M1139.20 1051.00H1152.40" stroke="#000" stroke-width="3.8" fill="none"/>
<path d="M1171.10 1013.40V1126.60M1164.50 1013.40H1177.70M1164.50 1126.60H1177.70" stroke="#000" stroke-width="3.8" fill="none"/>
<path d="M1200.50 1122.80V1177.70M1193.90 1122.80H1207.10M1193.90 1177.70H1207.10" stroke="#000" stroke-width="3.8" fill="none"/>
<path d="M1242.60 1095.00V1112.00M1236.00 1095.00H1249.20M1236.00 1112.00H1249.20" stroke="#000" stroke-width="3.8" fill="none"/>
<path d="M1301.20 1040.70V1094.80M1294.60 1040.70H1307.80M1294.60 1094.80H1307.80" stroke="#000" stroke-width="3.8" fill="none"/>
<path d="M1322.00 1116.00V1132.00M1315.40 1116.00H1328.60M1315.40 1132.00H1328.60" stroke="#000" stroke-width="3.8" fill="none"/>
<path d="M1326.50 1087.00V1103.00M1319.90 1087.00H1333.10M1319.90 1103.00H1333.10" stroke="#000" stroke-width="3.8" fill="none"/>
<path d="M1330.50 1123.00V1177.40M1323.90 1123.00H1337.10M1323.90 1177.40H1337.10" stroke="#000" stroke-width="3.8" fill="none"/>
<path d="M1360.60 1132.00V1168.30M1354.00 1132.00H1367.20M1354.00 1168.30H1367.20" stroke="#000" stroke-width="3.8" fill="none"/>
<path d="M1448.80 1196.00V1213.00M1442.20 1196.00H1455.40M1442.20 1213.00H1455.40" stroke="#000" stroke-width="3.8" fill="none"/>
<polygon points="1052.30,957.40 1043.39,961.09 1039.70,970.00 1043.39,978.91 1052.30,982.60 1061.21,978.91 1064.90,970.00 1061.21,961.09" fill="#6E6E6E"/>
<polygon points="1081.40,1010.90 1072.49,1014.59 1068.80,1023.50 1072.49,1032.41 1081.40,1036.10 1090.31,1032.41 1094.00,1023.50 1090.31,1014.59" fill="#6E6E6E"/>
<polygon points="1023.60,1010.40 1014.69,1014.09 1011.00,1023.00 1014.69,1031.91 1023.60,1035.60 1032.51,1031.91 1036.20,1023.00 1032.51,1014.09" fill="#6E6E6E"/>
<polygon points="1011.00,1045.40 1002.09,1049.09 998.40,1058.00 1002.09,1066.91 1011.00,1070.60 1019.91,1066.91 1023.60,1058.00 1019.91,1049.09" fill="#6E6E6E"/>
<polygon points="1145.80,1002.40 1136.89,1006.09 1133.20,1015.00 1136.89,1023.91 1145.80,1027.60 1154.71,1023.91 1158.40,1015.00 1154.71,1006.09" fill="#6E6E6E"/>
<polygon points="1170.40,1137.60 1161.49,1141.29 1157.80,1150.20 1161.49,1159.11 1170.40,1162.80 1179.31,1159.11 1183.00,1150.20 1179.31,1141.29" fill="#6E6E6E"/>
<polygon points="1200.50,1071.20 1191.59,1074.89 1187.90,1083.80 1191.59,1092.71 1200.50,1096.40 1209.41,1092.71 1213.10,1083.80 1209.41,1074.89" fill="#6E6E6E"/>
<polygon points="1242.50,1115.40 1233.59,1119.09 1229.90,1128.00 1233.59,1136.91 1242.50,1140.60 1251.41,1136.91 1255.10,1128.00 1251.41,1119.09" fill="#6E6E6E"/>
<polygon points="1320.00,1127.40 1311.09,1131.09 1307.40,1140.00 1311.09,1148.91 1320.00,1152.60 1328.91,1148.91 1332.60,1140.00 1328.91,1131.09" fill="#6E6E6E"/>
<polygon points="1360.60,1111.40 1351.69,1115.09 1348.00,1124.00 1351.69,1132.91 1360.60,1136.60 1369.51,1132.91 1373.20,1124.00 1369.51,1115.09" fill="#6E6E6E"/>
<polygon points="1448.80,1141.20 1439.89,1144.89 1436.20,1153.80 1439.89,1162.71 1448.80,1166.40 1457.71,1162.71 1461.40,1153.80 1457.71,1144.89" fill="#6E6E6E"/>
<polygon points="1083.50,926.40 1074.59,930.09 1070.90,939.00 1074.59,947.91 1083.50,951.60 1092.41,947.91 1096.10,939.00 1092.41,930.09" fill="#66B2E6"/>
<polygon points="1023.40,952.80 1014.49,956.49 1010.80,965.40 1014.49,974.31 1023.40,978.00 1032.31,974.31 1036.00,965.40 1032.31,956.49" fill="#66B2E6"/>
<polygon points="1062.00,949.20 1053.09,952.89 1049.40,961.80 1053.09,970.71 1062.00,974.40 1070.91,970.71 1074.60,961.80 1070.91,952.89" fill="#66B2E6"/>
<polygon points="1011.10,1090.90 1002.19,1094.59 998.50,1103.50 1002.19,1112.41 1011.10,1116.10 1020.01,1112.41 1023.70,1103.50 1020.01,1094.59" fill="#66B2E6"/>
<polygon points="1146.00,1021.40 1137.09,1025.09 1133.40,1034.00 1137.09,1042.91 1146.00,1046.60 1154.91,1042.91 1158.60,1034.00 1154.91,1025.09" fill="#66B2E6"/>
<polygon points="1171.10,1096.40 1162.19,1100.09 1158.50,1109.00 1162.19,1117.91 1171.10,1121.60 1180.01,1117.91 1183.70,1109.00 1180.01,1100.09" fill="#66B2E6"/>
<polygon points="1200.50,1184.00 1191.59,1187.69 1187.90,1196.60 1191.59,1205.51 1200.50,1209.20 1209.41,1205.51 1213.10,1196.60 1209.41,1187.69" fill="#66B2E6"/>
<polygon points="1243.80,1069.40 1234.89,1073.09 1231.20,1082.00 1234.89,1090.91 1243.80,1094.60 1252.71,1090.91 1256.40,1082.00 1252.71,1073.09" fill="#66B2E6"/>
<polygon points="1300.40,1102.40 1291.49,1106.09 1287.80,1115.00 1291.49,1123.91 1300.40,1127.60 1309.31,1123.91 1313.00,1115.00 1309.31,1106.09" fill="#66B2E6"/>
<polygon points="1319.70,1143.20 1310.79,1146.89 1307.10,1155.80 1310.79,1164.71 1319.70,1168.40 1328.61,1164.71 1332.30,1155.80 1328.61,1146.89" fill="#66B2E6"/>
<polygon points="1331.00,1204.50 1322.09,1208.19 1318.40,1217.10 1322.09,1226.01 1331.00,1229.70 1339.91,1226.01 1343.60,1217.10 1339.91,1208.19" fill="#66B2E6"/>
<polygon points="1360.60,1102.90 1351.69,1106.59 1348.00,1115.50 1351.69,1124.41 1360.60,1128.10 1369.51,1124.41 1373.20,1115.50 1369.51,1106.59" fill="#66B2E6"/>
<polygon points="1448.80,1219.20 1439.89,1222.89 1436.20,1231.80 1439.89,1240.71 1448.80,1244.40 1457.71,1240.71 1461.40,1231.80 1457.71,1222.89" fill="#66B2E6"/>
<polygon points="1052.90,838.00 1043.99,841.69 1040.30,850.60 1043.99,859.51 1052.90,863.20 1061.81,859.51 1065.50,850.60 1061.81,841.69" fill="#008000"/>
<polygon points="1023.40,943.20 1014.49,946.89 1010.80,955.80 1014.49,964.71 1023.40,968.40 1032.31,964.71 1036.00,955.80 1032.31,946.89" fill="#008000"/>
<polygon points="1082.00,1019.40 1073.09,1023.09 1069.40,1032.00 1073.09,1040.91 1082.00,1044.60 1090.91,1040.91 1094.60,1032.00 1090.91,1023.09" fill="#008000"/>
<polygon points="1011.10,1086.90 1002.19,1090.59 998.50,1099.50 1002.19,1108.41 1011.10,1112.10 1020.01,1108.41 1023.70,1099.50 1020.01,1090.59" fill="#008000"/>
<polygon points="1145.20,1045.30 1136.29,1048.99 1132.60,1057.90 1136.29,1066.81 1145.20,1070.50 1154.11,1066.81 1157.80,1057.90 1154.11,1048.99" fill="#008000"/>
<polygon points="1170.00,882.40 1161.09,886.09 1157.40,895.00 1161.09,903.91 1170.00,907.60 1178.91,903.91 1182.60,895.00 1178.91,886.09" fill="#008000"/>
<polygon points="1200.50,1187.50 1191.59,1191.19 1187.90,1200.10 1191.59,1209.01 1200.50,1212.70 1209.41,1209.01 1213.10,1200.10 1209.41,1191.19" fill="#008000"/>
<polygon points="1242.60,1102.40 1233.69,1106.09 1230.00,1115.00 1233.69,1123.91 1242.60,1127.60 1251.51,1123.91 1255.20,1115.00 1251.51,1106.09" fill="#008000"/>
<polygon points="1300.40,1094.40 1291.49,1098.09 1287.80,1107.00 1291.49,1115.91 1300.40,1119.60 1309.31,1115.91 1313.00,1107.00 1309.31,1098.09" fill="#008000"/>
<polygon points="1326.50,1058.80 1317.59,1062.49 1313.90,1071.40 1317.59,1080.31 1326.50,1084.00 1335.41,1080.31 1339.10,1071.40 1335.41,1062.49" fill="#008000"/>
<polygon points="1329.00,1099.40 1320.09,1103.09 1316.40,1112.00 1320.09,1120.91 1329.00,1124.60 1337.91,1120.91 1341.60,1112.00 1337.91,1103.09" fill="#008000"/>
<polygon points="1448.80,1175.20 1439.89,1178.89 1436.20,1187.80 1439.89,1196.71 1448.80,1200.40 1457.71,1196.71 1461.40,1187.80 1457.71,1178.89" fill="#008000"/>
<polygon points="1010.80,917.90 1001.89,921.59 998.20,930.50 1001.89,939.41 1010.80,943.10 1019.71,939.41 1023.40,930.50 1019.71,921.59" fill="#0000FF"/>
<polygon points="1053.00,974.60 1044.09,978.29 1040.40,987.20 1044.09,996.11 1053.00,999.80 1061.91,996.11 1065.60,987.20 1061.91,978.29" fill="#0000FF"/>
<polygon points="1082.60,972.40 1073.69,976.09 1070.00,985.00 1073.69,993.91 1082.60,997.60 1091.51,993.91 1095.20,985.00 1091.51,976.09" fill="#0000FF"/>
<polygon points="1145.80,969.40 1136.89,973.09 1133.20,982.00 1136.89,990.91 1145.80,994.60 1154.71,990.91 1158.40,982.00 1154.71,973.09" fill="#0000FF"/>
<polygon points="1171.10,1111.90 1162.19,1115.59 1158.50,1124.50 1162.19,1133.41 1171.10,1137.10 1180.01,1133.41 1183.70,1124.50 1180.01,1115.59" fill="#0000FF"/>
<polygon points="1200.50,1120.40 1191.59,1124.09 1187.90,1133.00 1191.59,1141.91 1200.50,1145.60 1209.41,1141.91 1213.10,1133.00 1209.41,1124.09" fill="#0000FF"/>
<polygon points="1242.60,1018.90 1233.69,1022.59 1230.00,1031.50 1233.69,1040.41 1242.60,1044.10 1251.51,1040.41 1255.20,1031.50 1251.51,1022.59" fill="#0000FF"/>
<polygon points="1301.20,964.40 1292.29,968.09 1288.60,977.00 1292.29,985.91 1301.20,989.60 1310.11,985.91 1313.80,977.00 1310.11,968.09" fill="#0000FF"/>
<polygon points="1336.00,1118.40 1327.09,1122.09 1323.40,1131.00 1327.09,1139.91 1336.00,1143.60 1344.91,1139.91 1348.60,1131.00 1344.91,1122.09" fill="#0000FF"/>
<polygon points="1360.60,1175.00 1351.69,1178.69 1348.00,1187.60 1351.69,1196.51 1360.60,1200.20 1369.51,1196.51 1373.20,1187.60 1369.51,1178.69" fill="#0000FF"/>
<polygon points="1448.80,1234.20 1439.89,1237.89 1436.20,1246.80 1439.89,1255.71 1448.80,1259.40 1457.71,1255.71 1461.40,1246.80 1457.71,1237.89" fill="#0000FF"/>
<path d="M1011.10,1032.70L999.43,1037.53L994.60,1049.20L999.43,1060.87L1011.10,1065.70L1022.77,1060.87L1027.60,1049.20L1022.77,1037.53ZM1011.10,1041.40L1005.58,1043.68L1003.30,1049.20L1005.58,1054.72L1011.10,1057.00L1016.62,1054.72L1018.90,1049.20L1016.62,1043.68Z" fill="#000" fill-rule="evenodd"/><polygon points="1011.10,1041.40 1005.58,1043.68 1003.30,1049.20 1005.58,1054.72 1011.10,1057.00 1016.62,1054.72 1018.90,1049.20 1016.62,1043.68" fill="#fff"/>
<path d="M1022.40,969.00L1010.73,973.83L1005.90,985.50L1010.73,997.17L1022.40,1002.00L1034.07,997.17L1038.90,985.50L1034.07,973.83ZM1022.40,977.70L1016.88,979.98L1014.60,985.50L1016.88,991.02L1022.40,993.30L1027.92,991.02L1030.20,985.50L1027.92,979.98Z" fill="#000" fill-rule="evenodd"/><polygon points="1022.40,977.70 1016.88,979.98 1014.60,985.50 1016.88,991.02 1022.40,993.30 1027.92,991.02 1030.20,985.50 1027.92,979.98" fill="#fff"/>
<path d="M1051.50,932.50L1039.83,937.33L1035.00,949.00L1039.83,960.67L1051.50,965.50L1063.17,960.67L1068.00,949.00L1063.17,937.33ZM1051.50,941.20L1045.98,943.48L1043.70,949.00L1045.98,954.52L1051.50,956.80L1057.02,954.52L1059.30,949.00L1057.02,943.48Z" fill="#000" fill-rule="evenodd"/><polygon points="1051.50,941.20 1045.98,943.48 1043.70,949.00 1045.98,954.52 1051.50,956.80 1057.02,954.52 1059.30,949.00 1057.02,943.48" fill="#fff"/>
<path d="M1061.50,930.50L1049.83,935.33L1045.00,947.00L1049.83,958.67L1061.50,963.50L1073.17,958.67L1078.00,947.00L1073.17,935.33ZM1061.50,939.20L1055.98,941.48L1053.70,947.00L1055.98,952.52L1061.50,954.80L1067.02,952.52L1069.30,947.00L1067.02,941.48Z" fill="#000" fill-rule="evenodd"/><polygon points="1061.50,939.20 1055.98,941.48 1053.70,947.00 1055.98,952.52 1061.50,954.80 1067.02,952.52 1069.30,947.00 1067.02,941.48" fill="#fff"/>
<path d="M1082.50,977.00L1070.83,981.83L1066.00,993.50L1070.83,1005.17L1082.50,1010.00L1094.17,1005.17L1099.00,993.50L1094.17,981.83ZM1082.50,985.70L1076.98,987.98L1074.70,993.50L1076.98,999.02L1082.50,1001.30L1088.02,999.02L1090.30,993.50L1088.02,987.98Z" fill="#000" fill-rule="evenodd"/><polygon points="1082.50,985.70 1076.98,987.98 1074.70,993.50 1076.98,999.02 1082.50,1001.30 1088.02,999.02 1090.30,993.50 1088.02,987.98" fill="#fff"/>
<path d="M1145.80,1006.50L1134.13,1011.33L1129.30,1023.00L1134.13,1034.67L1145.80,1039.50L1157.47,1034.67L1162.30,1023.00L1157.47,1011.33ZM1145.80,1015.20L1140.28,1017.48L1138.00,1023.00L1140.28,1028.52L1145.80,1030.80L1151.32,1028.52L1153.60,1023.00L1151.32,1017.48Z" fill="#000" fill-rule="evenodd"/><polygon points="1145.80,1015.20 1140.28,1017.48 1138.00,1023.00 1140.28,1028.52 1145.80,1030.80 1151.32,1028.52 1153.60,1023.00 1151.32,1017.48" fill="#fff"/>
<path d="M1171.10,1053.50L1159.43,1058.33L1154.60,1070.00L1159.43,1081.67L1171.10,1086.50L1182.77,1081.67L1187.60,1070.00L1182.77,1058.33ZM1171.10,1062.20L1165.58,1064.48L1163.30,1070.00L1165.58,1075.52L1171.10,1077.80L1176.62,1075.52L1178.90,1070.00L1176.62,1064.48Z" fill="#000" fill-rule="evenodd"/><polygon points="1171.10,1062.20 1165.58,1064.48 1163.30,1070.00 1165.58,1075.52 1171.10,1077.80 1176.62,1075.52 1178.90,1070.00 1176.62,1064.48" fill="#fff"/>
<path d="M1200.50,1133.70L1188.83,1138.53L1184.00,1150.20L1188.83,1161.87L1200.50,1166.70L1212.17,1161.87L1217.00,1150.20L1212.17,1138.53ZM1200.50,1142.40L1194.98,1144.68L1192.70,1150.20L1194.98,1155.72L1200.50,1158.00L1206.02,1155.72L1208.30,1150.20L1206.02,1144.68Z" fill="#000" fill-rule="evenodd"/><polygon points="1200.50,1142.40 1194.98,1144.68 1192.70,1150.20 1194.98,1155.72 1200.50,1158.00 1206.02,1155.72 1208.30,1150.20 1206.02,1144.68" fill="#fff"/>
<path d="M1242.60,1087.10L1230.93,1091.93L1226.10,1103.60L1230.93,1115.27L1242.60,1120.10L1254.27,1115.27L1259.10,1103.60L1254.27,1091.93ZM1242.60,1095.80L1237.08,1098.08L1234.80,1103.60L1237.08,1109.12L1242.60,1111.40L1248.12,1109.12L1250.40,1103.60L1248.12,1098.08Z" fill="#000" fill-rule="evenodd"/><polygon points="1242.60,1095.80 1237.08,1098.08 1234.80,1103.60 1237.08,1109.12 1242.60,1111.40 1248.12,1109.12 1250.40,1103.60 1248.12,1098.08" fill="#fff"/>
<path d="M1301.20,1052.00L1289.53,1056.83L1284.70,1068.50L1289.53,1080.17L1301.20,1085.00L1312.87,1080.17L1317.70,1068.50L1312.87,1056.83ZM1301.20,1060.70L1295.68,1062.98L1293.40,1068.50L1295.68,1074.02L1301.20,1076.30L1306.72,1074.02L1309.00,1068.50L1306.72,1062.98Z" fill="#000" fill-rule="evenodd"/><polygon points="1301.20,1060.70 1295.68,1062.98 1293.40,1068.50 1295.68,1074.02 1301.20,1076.30 1306.72,1074.02 1309.00,1068.50 1306.72,1062.98" fill="#fff"/>
<path d="M1322.00,1107.50L1310.33,1112.33L1305.50,1124.00L1310.33,1135.67L1322.00,1140.50L1333.67,1135.67L1338.50,1124.00L1333.67,1112.33ZM1322.00,1116.20L1316.48,1118.48L1314.20,1124.00L1316.48,1129.52L1322.00,1131.80L1327.52,1129.52L1329.80,1124.00L1327.52,1118.48Z" fill="#000" fill-rule="evenodd"/><polygon points="1322.00,1116.20 1316.48,1118.48 1314.20,1124.00 1316.48,1129.52 1322.00,1131.80 1327.52,1129.52 1329.80,1124.00 1327.52,1118.48" fill="#fff"/>
<path d="M1326.50,1078.50L1314.83,1083.33L1310.00,1095.00L1314.83,1106.67L1326.50,1111.50L1338.17,1106.67L1343.00,1095.00L1338.17,1083.33ZM1326.50,1087.20L1320.98,1089.48L1318.70,1095.00L1320.98,1100.52L1326.50,1102.80L1332.02,1100.52L1334.30,1095.00L1332.02,1089.48Z" fill="#000" fill-rule="evenodd"/><polygon points="1326.50,1087.20 1320.98,1089.48 1318.70,1095.00 1320.98,1100.52 1326.50,1102.80 1332.02,1100.52 1334.30,1095.00 1332.02,1089.48" fill="#fff"/>
<path d="M1330.50,1133.70L1318.83,1138.53L1314.00,1150.20L1318.83,1161.87L1330.50,1166.70L1342.17,1161.87L1347.00,1150.20L1342.17,1138.53ZM1330.50,1142.40L1324.98,1144.68L1322.70,1150.20L1324.98,1155.72L1330.50,1158.00L1336.02,1155.72L1338.30,1150.20L1336.02,1144.68Z" fill="#000" fill-rule="evenodd"/><polygon points="1330.50,1142.40 1324.98,1144.68 1322.70,1150.20 1324.98,1155.72 1330.50,1158.00 1336.02,1155.72 1338.30,1150.20 1336.02,1144.68" fill="#fff"/>
<path d="M1360.60,1133.70L1348.93,1138.53L1344.10,1150.20L1348.93,1161.87L1360.60,1166.70L1372.27,1161.87L1377.10,1150.20L1372.27,1138.53ZM1360.60,1142.40L1355.08,1144.68L1352.80,1150.20L1355.08,1155.72L1360.60,1158.00L1366.12,1155.72L1368.40,1150.20L1366.12,1144.68Z" fill="#000" fill-rule="evenodd"/><polygon points="1360.60,1142.40 1355.08,1144.68 1352.80,1150.20 1355.08,1155.72 1360.60,1158.00 1366.12,1155.72 1368.40,1150.20 1366.12,1144.68" fill="#fff"/>
<path d="M1448.80,1188.30L1437.13,1193.13L1432.30,1204.80L1437.13,1216.47L1448.80,1221.30L1460.47,1216.47L1465.30,1204.80L1460.47,1193.13ZM1448.80,1197.00L1443.28,1199.28L1441.00,1204.80L1443.28,1210.32L1448.80,1212.60L1454.32,1210.32L1456.60,1204.80L1454.32,1199.28Z" fill="#000" fill-rule="evenodd"/><polygon points="1448.80,1197.00 1443.28,1199.28 1441.00,1204.80 1443.28,1210.32 1448.80,1212.60 1454.32,1210.32 1456.60,1204.80 1454.32,1199.28" fill="#fff"/>
</g>
<line x1="165.60" y1="209.00" x2="760.00" y2="596.50" stroke="#000" stroke-width="4.4"/>
<line x1="882.00" y1="275.30" x2="1480.30" y2="535.90" stroke="#000" stroke-width="4.4"/>
<line x1="165.60" y1="874.80" x2="760.00" y2="1234.40" stroke="#000" stroke-width="4.4"/>
<line x1="882.00" y1="921.40" x2="1480.30" y2="1204.00" stroke="#000" stroke-width="4.4"/>
<line x1="1011" y1="976.3" x2="1449" y2="1196.5" stroke="#000" stroke-width="5.6"/>
<path d="M363.73 730.80V722.80M363.73 136.80V144.80M561.87 730.80V722.80M561.87 136.80V144.80M165.60 645.94H173.60M760.00 645.94H752.00M165.60 561.09H173.60M760.00 561.09H752.00M165.60 476.23H173.60M760.00 476.23H752.00M165.60 391.37H173.60M760.00 391.37H752.00M165.60 306.51H173.60M760.00 306.51H752.00M165.60 221.66H173.60M760.00 221.66H752.00" stroke="#262626" stroke-width="3.60" fill="none"/>
<rect x="165.60" y="136.80" width="594.40" height="594.00" fill="none" stroke="#262626" stroke-width="3.90" stroke-linejoin="miter"/>
<path d="M1081.43 730.80V722.80M1081.43 136.80V144.80M1280.87 730.80V722.80M1280.87 136.80V144.80M882.00 306.51H890.00M1480.30 306.51H1472.30M882.00 476.23H890.00M1480.30 476.23H1472.30M882.00 645.94H890.00M1480.30 645.94H1472.30" stroke="#262626" stroke-width="3.60" fill="none"/>
<rect x="882.00" y="136.80" width="598.30" height="594.00" fill="none" stroke="#262626" stroke-width="3.90" stroke-linejoin="miter"/>
<path d="M363.73 1388.00V1380.00M363.73 794.10V802.10M561.87 1388.00V1380.00M561.87 794.10V802.10M165.60 1289.02H173.60M760.00 1289.02H752.00M165.60 1190.03H173.60M760.00 1190.03H752.00M165.60 1091.05H173.60M760.00 1091.05H752.00M165.60 992.07H173.60M760.00 992.07H752.00M165.60 893.08H173.60M760.00 893.08H752.00" stroke="#262626" stroke-width="3.60" fill="none"/>
<rect x="165.60" y="794.10" width="594.40" height="593.90" fill="none" stroke="#262626" stroke-width="3.90" stroke-linejoin="miter"/>
<path d="M1081.43 1388.00V1380.00M1081.43 794.10V802.10M1280.87 1388.00V1380.00M1280.87 794.10V802.10M882.00 1296.63H890.00M1480.30 1296.63H1472.30M882.00 1205.26H890.00M1480.30 1205.26H1472.30M882.00 1113.89H890.00M1480.30 1113.89H1472.30M882.00 1022.52H890.00M1480.30 1022.52H1472.30M882.00 931.15H890.00M1480.30 931.15H1472.30M882.00 839.78H890.00M1480.30 839.78H1472.30" stroke="#262626" stroke-width="3.60" fill="none"/>
<rect x="882.00" y="794.10" width="598.30" height="593.90" fill="none" stroke="#262626" stroke-width="3.90" stroke-linejoin="miter"/>
<text x="95.05" y="154.50" font-size="43.00" font-weight="normal" font-style="normal" fill="#262626" >2.3</text>
<text x="88.05" y="325.70" font-size="43.00" font-weight="normal" font-style="normal" fill="#262626" xml:space="preserve">2.</text>
<path d="M135.52 325.70L139.56 325.70L139.56 295.47L136.38 295.47C135.52 298.82 133.16 300.55 128.43 300.76L128.43 303.86L135.52 303.86Z" fill="#262626"/>
<path d="M101.06 495.20L105.10 495.20L105.10 464.97L101.92 464.97C101.06 468.32 98.70 470.05 93.97 470.26L93.97 473.36L101.06 473.36Z" fill="#262626"/>
<text x="113.36" y="495.20" font-size="43.00" font-weight="normal" font-style="normal" fill="#262626" xml:space="preserve">.9</text>
<path d="M101.06 664.70L105.10 664.70L105.10 634.47L101.92 634.47C101.06 637.83 98.70 639.55 93.97 639.76L93.97 642.86L101.06 642.86Z" fill="#262626"/>
<text x="113.36" y="664.70" font-size="43.00" font-weight="normal" font-style="normal" fill="#262626" xml:space="preserve">.7</text>
<text x="807.05" y="154.30" font-size="43.00" font-weight="normal" font-style="normal" fill="#262626" >2.2</text>
<text x="845.75" y="324.00" font-size="43.00" font-weight="normal" font-style="normal" fill="#262626" >2</text>
<path d="M819.66 493.80L823.70 493.80L823.70 463.57L820.52 463.57C819.66 466.93 817.29 468.65 812.56 468.86L812.56 471.96L819.66 471.96Z" fill="#262626"/>
<text x="831.96" y="493.80" font-size="43.00" font-weight="normal" font-style="normal" fill="#262626" xml:space="preserve">.8</text>
<path d="M819.66 663.20L823.70 663.20L823.70 632.97L820.52 632.97C819.66 636.33 817.29 638.05 812.56 638.26L812.56 641.36L819.66 641.36Z" fill="#262626"/>
<text x="831.96" y="663.20" font-size="43.00" font-weight="normal" font-style="normal" fill="#262626" xml:space="preserve">.6</text>
<text x="95.70" y="811.80" font-size="43.00" font-weight="normal" font-style="normal" fill="#262626" >9.9</text>
<text x="95.70" y="1010.00" font-size="43.00" font-weight="normal" font-style="normal" fill="#262626" >9.7</text>
<text x="95.70" y="1207.50" font-size="43.00" font-weight="normal" font-style="normal" fill="#262626" >9.5</text>
<text x="95.70" y="1397.50" font-size="43.00" font-weight="normal" font-style="normal" fill="#262626" >9.3</text>
<text x="812.00" y="857.70" font-size="43.00" font-weight="normal" font-style="normal" fill="#262626" >9.7</text>
<text x="812.00" y="1040.20" font-size="43.00" font-weight="normal" font-style="normal" fill="#262626" >9.5</text>
<text x="812.00" y="1223.20" font-size="43.00" font-weight="normal" font-style="normal" fill="#262626" >9.3</text>
<text x="812.00" y="1397.30" font-size="43.00" font-weight="normal" font-style="normal" fill="#262626" xml:space="preserve">9.</text>
<path d="M859.47 1397.30L863.51 1397.30L863.51 1367.07L860.33 1367.07C859.47 1370.42 857.11 1372.14 852.38 1372.36L852.38 1375.46L859.47 1375.46Z" fill="#262626"/>
<path d="M155.36 1435.30L159.40 1435.30L159.40 1405.07L156.22 1405.07C155.36 1408.42 153.00 1410.14 148.26 1410.36L148.26 1413.46L155.36 1413.46Z" fill="#262626"/>
<text x="167.66" y="1435.30" font-size="43.00" font-weight="normal" font-style="normal" fill="#262626" xml:space="preserve">8</text>
<text x="336.75" y="1435.20" font-size="43.00" font-weight="normal" font-style="normal" fill="#262626" >20</text>
<text x="534.75" y="1435.00" font-size="43.00" font-weight="normal" font-style="normal" fill="#262626" >22</text>
<text x="732.75" y="1435.00" font-size="43.00" font-weight="normal" font-style="normal" fill="#262626" >24</text>
<path d="M876.06 1435.20L880.10 1435.20L880.10 1404.97L876.92 1404.97C876.06 1408.33 873.70 1410.05 868.97 1410.26L868.97 1413.36L876.06 1413.36Z" fill="#262626"/>
<text x="888.36" y="1435.20" font-size="43.00" font-weight="normal" font-style="normal" fill="#262626" xml:space="preserve">8</text>
<text x="1054.45" y="1435.00" font-size="43.00" font-weight="normal" font-style="normal" fill="#262626" >20</text>
<text x="1253.75" y="1435.00" font-size="43.00" font-weight="normal" font-style="normal" fill="#262626" >22</text>
<text x="1453.15" y="1435.00" font-size="43.00" font-weight="normal" font-style="normal" fill="#262626" >24</text>
<text x="281.60" y="1484.00" font-size="46.40" font-weight="normal" font-style="normal" fill="#000" >Temperature (°C)</text>
<text x="1000.00" y="1488.60" font-size="46.40" font-weight="normal" font-style="normal" fill="#000" >Temperature (°C)</text>
<g transform="translate(51.80 646.35) rotate(-90)" fill="#000">
<text x="0" y="0" font-size="46.40" xml:space="preserve">Li/Mg (mmol mol</text>
<text x="344.80" y="-25" font-size="39">-</text>
<path d="M368.32 -25.00L371.98 -25.00L371.98 -52.42L369.10 -52.42C368.32 -49.38 366.17 -47.81 361.88 -47.62L361.88 -44.81L368.32 -44.81Z" fill="#000"/>
<text x="375.95" y="0" font-size="46.40">)</text>
</g>
<g transform="translate(60.60 1308.15) rotate(-90)" fill="#000">
<text x="0" y="0" font-size="46.40" xml:space="preserve">Sr/Ca (mmol mol</text>
<text x="353.70" y="-25" font-size="39">-</text>
<path d="M377.22 -25.00L380.88 -25.00L380.88 -52.42L378.00 -52.42C377.22 -49.38 375.07 -47.81 370.78 -47.62L370.78 -44.81L377.22 -44.81Z" fill="#000"/>
<text x="388.85" y="0" font-size="46.40">)</text>
</g>
<text x="185.25" y="196.70" font-size="46.40" font-weight="bold" font-style="normal" fill="#000" >a)</text>
<text x="901.70" y="196.90" font-size="46.40" font-weight="bold" font-style="normal" fill="#000" >b)</text>
<text x="185.35" y="851.40" font-size="46.40" font-weight="bold" font-style="normal" fill="#000" >c)</text>
<text x="901.30" y="856.40" font-size="46.40" font-weight="bold" font-style="normal" fill="#000" >d)</text>
<text x="561.20" y="199.90" font-size="46.40" font-weight="normal" font-style="normal" fill="#000" >r</text>
<text x="578.15" y="179.30" font-size="34.00" font-weight="normal" font-style="normal" fill="#000" >2</text>
<text x="611.75" y="199.90" font-size="46.40" font-weight="normal" font-style="normal" fill="#000" >= 0.82</text>
<text x="1277.50" y="199.90" font-size="46.40" font-weight="normal" font-style="normal" fill="#000" >r</text>
<text x="1294.15" y="179.30" font-size="34.00" font-weight="normal" font-style="normal" fill="#000" >2</text>
<text x="1327.75" y="199.90" font-size="46.40" font-weight="normal" font-style="normal" fill="#000" xml:space="preserve">= 0.7</text>
<path d="M1444.77 199.90L1449.13 199.90L1449.13 167.28L1445.70 167.28C1444.77 170.90 1442.22 172.76 1437.11 172.99L1437.11 176.33L1444.77 176.33Z" fill="#000"/>
<text x="561.20" y="852.70" font-size="46.40" font-weight="normal" font-style="normal" fill="#000" >r</text>
<text x="577.85" y="832.10" font-size="34.00" font-weight="normal" font-style="normal" fill="#000" >2</text>
<text x="611.75" y="852.70" font-size="46.40" font-weight="normal" font-style="normal" fill="#000" >= 0.76</text>
<text x="1277.50" y="857.10" font-size="46.40" font-weight="normal" font-style="normal" fill="#000" >r</text>
<text x="1294.15" y="836.50" font-size="34.00" font-weight="normal" font-style="normal" fill="#000" >2</text>
<text x="1327.75" y="857.10" font-size="46.40" font-weight="normal" font-style="normal" fill="#000" >= 0.73</text>
<rect x="1008.2" y="1.9" width="451.2" height="109.7" fill="#fff" stroke="#262626" stroke-width="4"/>
<polygon points="1099.6,6.0 1122.6,47.6 1076.6,47.6" fill="#000"/>
<polygon points="1099.20,67.20 1090.29,70.89 1086.60,79.80 1090.29,88.71 1099.20,92.40 1108.11,88.71 1111.80,79.80 1108.11,70.89" fill="#fff" stroke="#000" stroke-width="8.60" stroke-linejoin="round"/>
<text x="1187.00" y="48.60" font-size="42.40" font-weight="normal" font-style="italic" fill="#000" >A. yongei</text>
<text x="1186.80" y="94.60" font-size="42.40" font-weight="normal" font-style="italic" fill="#000" >P. damicornis</text>
</svg>
</body></html>
